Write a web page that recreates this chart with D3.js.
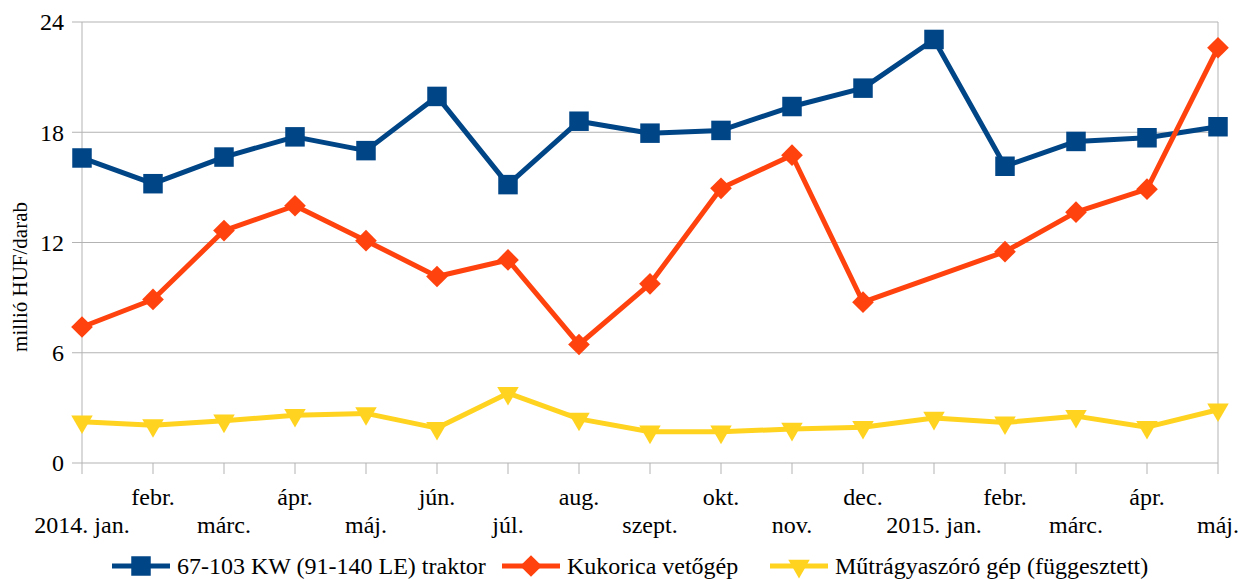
<!DOCTYPE html>
<html>
<head>
<meta charset="utf-8">
<script src="https://cdn.jsdelivr.net/npm/d3@7"></script>
<style>
  body { margin: 0; background: #fff; }
</style>
</head>
<body>
<div id="chart"></div>
<script>
// month labels (x axis)
var months = ["2014. jan.", "febr.", "márc.", "ápr.", "máj.", "jún.", "júl.", "aug.",
  "szept.", "okt.", "nov.", "dec.", "2015. jan.", "febr.", "márc.", "ápr.", "máj."];

var yTicks = [0, 6, 12, 18, 24];

var seriesNames = ["67-103 KW (91-140 LE) traktor", "Kukorica vetőgép", "Műtrágyaszóró gép (függesztett)"];

// millió HUF/darab
var traktor = [16.6, 15.2, 16.65, 17.75, 17.0, 19.95, 15.15, 18.6, 17.95, 18.1, 19.4, 20.4, 23.05, 16.15, 17.5, 17.7, 18.3];
var vetogep = [7.4, 8.9, 12.65, 14.0, 12.1, 10.15, 11.05, 6.45, 9.75, 14.95, 16.75, 8.75, null, 11.5, 13.65, 14.9, 22.6];
var mutragya = [2.25, 2.05, 2.3, 2.6, 2.7, 1.9, 3.8, 2.4, 1.7, 1.7, 1.85, 1.95, 2.45, 2.2, 2.55, 1.95, 2.9];

var colors = ["#004586", "#ff420e", "#ffd320"];
var symbols = [d3.symbolSquare, d3.symbolDiamond2, d3.symbolTriangle2];
var FONT = "'Liberation Serif', 'DejaVu Serif', serif";

var W = 1240, H = 579;
var margin = { top: 22, right: 22, bottom: 116, left: 82 };
var width = W - margin.left - margin.right,
    height = H - margin.top - margin.bottom;

var svg = d3.select("#chart").append("svg")
    .attr("width", W)
    .attr("height", H)
    .attr("font-family", FONT);

var g = svg.append("g")
    .attr("transform", "translate(" + margin.left + "," + margin.top + ")");

var x = d3.scalePoint()
    .domain(d3.range(months.length))
    .range([0, width]);

var y = d3.scaleLinear()
    .domain([0, 24])
    .range([height, 0]);

// gridlines
g.append("g")
    .selectAll("line")
    .data(yTicks)
    .enter().append("line")
    .attr("x1", -10).attr("x2", width)
    .attr("y1", function(d) { return y(d); })
    .attr("y2", function(d) { return y(d); })
    .attr("stroke", "#b3b3b3")
    .attr("stroke-width", 1);

// left and right borders
g.append("line").attr("x1", 0).attr("x2", 0).attr("y1", 0).attr("y2", height)
    .attr("stroke", "#b3b3b3");
g.append("line").attr("x1", width).attr("x2", width).attr("y1", 0).attr("y2", height)
    .attr("stroke", "#b3b3b3");

// y tick labels
g.append("g")
    .selectAll("text")
    .data(yTicks)
    .enter().append("text")
    .attr("x", -18)
    .attr("y", function(d) { return y(d); })
    .attr("dy", "0.35em")
    .attr("text-anchor", "end")
    .attr("font-size", 24)
    .text(function(d) { return d; });

// x ticks
g.append("g")
    .selectAll("line")
    .data(d3.range(months.length))
    .enter().append("line")
    .attr("x1", function(d) { return x(d); })
    .attr("x2", function(d) { return x(d); })
    .attr("y1", height)
    .attr("y2", height + 11)
    .attr("stroke", "#b3b3b3");

// x labels, staggered in two rows
g.append("g")
    .selectAll("text")
    .data(months)
    .enter().append("text")
    .attr("x", function(d, i) { return x(i); })
    .attr("y", function(d, i) { return i % 2 ? height + 42 : height + 70; })
    .attr("text-anchor", "middle")
    .attr("font-size", 24)
    .text(function(d) { return d; });

// y axis title
svg.append("text")
    .attr("transform", "translate(27,277) rotate(-90)")
    .attr("text-anchor", "middle")
    .attr("font-size", 21)
    .text("millió HUF/darab");

var allSeries = [traktor, vetogep, mutragya];
var sizes = [380, 300, 330];

var line = d3.line()
    .x(function(d) { return x(d.i); })
    .y(function(d) { return y(d.v); });

allSeries.forEach(function(values, s) {
  var pts = values.map(function(v, i) { return { i: i, v: v }; })
      .filter(function(d) { return d.v !== null; });

  g.append("path")
      .datum(pts)
      .attr("fill", "none")
      .attr("stroke", colors[s])
      .attr("stroke-width", 5)
      .attr("stroke-linejoin", "round")
      .attr("d", line);

  g.selectAll(".m" + s)
      .data(pts)
      .enter().append("path")
      .attr("class", "m" + s)
      .attr("transform", function(d) {
        return "translate(" + x(d.i) + "," + y(d.v) + ")" + (s === 2 ? " rotate(180)" : "");
      })
      .attr("d", d3.symbol().type(symbols[s]).size(sizes[s]))
      .attr("fill", colors[s]);
});

// legend
var legendX = [112, 502, 770];
var leg = svg.append("g").attr("transform", "translate(0,566)");
seriesNames.forEach(function(name, s) {
  var lg = leg.append("g").attr("transform", "translate(" + legendX[s] + ",0)");
  lg.append("line")
      .attr("x1", 0).attr("x2", 58)
      .attr("stroke", colors[s])
      .attr("stroke-width", 5);
  lg.append("path")
      .attr("transform", "translate(29,0)" + (s === 2 ? " rotate(180)" : ""))
      .attr("d", d3.symbol().type(symbols[s]).size(sizes[s]))
      .attr("fill", colors[s]);
  lg.append("text")
      .attr("x", 65)
      .attr("y", 8)
      .attr("font-size", 24)
      .text(name);
});
</script>
</body>
</html>
